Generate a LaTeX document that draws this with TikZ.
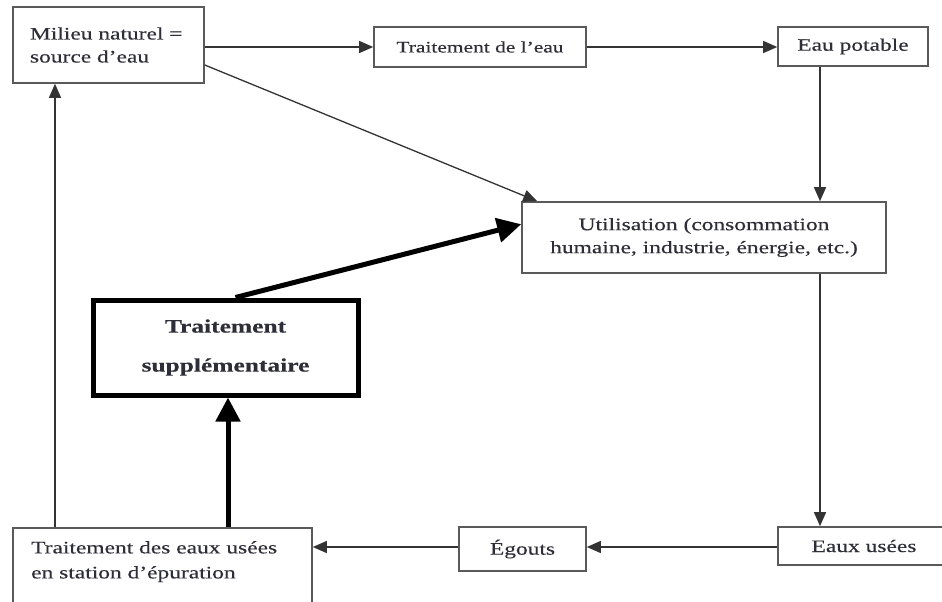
\documentclass[tikz,border=0pt]{standalone}
\usepackage{fontspec}
\setmainfont{Liberation Serif}[FakeStretch=1.34,FakeBold=0.3]
\usetikzlibrary{arrows.meta,calc}
\definecolor{boxgray}{HTML}{5A5A5A}
\definecolor{txt}{HTML}{2E2E38}
\tikzset{
  box/.style={draw=boxgray, line width=1.6pt, fill=white, inner sep=0pt, text=txt,
    font=\fontsize{17.5}{23}\selectfont, align=center},
  thickbox/.style={draw=black, line width=5pt, fill=white, inner sep=0pt, text=txt,
    font=\fontsize{19}{39}\selectfont\bfseries, align=center},
  thin/.style={draw=black!80, line width=1.3pt, -{Triangle[length=14pt,width=12pt]}},
  heavy/.style={draw=black, line width=5pt, -{Triangle[length=24pt,width=24pt]}},
  lbl/.style={text=txt, font=\fontsize{17.5}{25}\selectfont, align=left, inner sep=0pt, anchor=north west},
}
\begin{document}
\begin{tikzpicture}[x=1pt,y=-1pt]
\useasboundingbox[fill=white] (0,0) rectangle (942,602);
\clip (0,0) rectangle (942,602);
% boxes
\node[box, minimum width=191pt, minimum height=76pt, text width=157pt, align=left] (mil) at (108.5,45) {Milieu naturel =\\source d'eau};
\node[box, minimum width=212pt, minimum height=40pt, font=\fontsize{16}{20}\selectfont] (tre) at (480,47) {Traitement de l'eau};
\node[box, minimum width=150pt, minimum height=39pt] (eap) at (853,46.5) {Eau potable};
\node[box, minimum width=364pt, minimum height=71pt] (uti) at (704,237.5) {Utilisation (consommation\\humaine, industrie, énergie, etc.)};
\node[thickbox, minimum width=265pt, minimum height=95pt] (sup) at (225.5,347.5) {Traitement\\supplémentaire};
\node[box, minimum width=299pt, minimum height=112pt] (stp) at (162.5,584) {};
\node[lbl] (stptxt) at (31,541) {Traitement des eaux usées\\en station d'épuration};
\node[box, minimum width=127pt, minimum height=44pt] (ego) at (522.5,549) {Égouts};
\node[box, minimum width=172pt, minimum height=38pt] (eau) at (864,546) {Eaux usées};
% connectors
\draw[thin] (mil.east |- 0,47) -- (tre.west |- 0,47);
\draw[thin] (tre.east |- 0,47) -- (eap.west |- 0,47);
\draw[thin] (eap.south -| 820,0) -- (uti.north -| 820,0);
\draw[thin] ([yshift=-20pt]mil.east) -- ([xshift=16pt]uti.north west);
\draw[heavy] ([xshift=145pt]sup.north west) -- ([yshift=-23pt]uti.north west);
\draw[thin] (uti.south -| 820,0) -- (eau.north -| 820,0);
\draw[thin] (eau.west |- 0,547) -- (ego.east |- 0,547);
\draw[thin] (ego.west |- 0,547) -- (stp.east |- 0,547);
\draw[thin] (stp.north -| 55,0) -- (mil.south -| 55,0);
\draw[heavy] (stp.north -| 228,0) -- (sup.south -| 228,0);
\end{tikzpicture}
\end{document}
